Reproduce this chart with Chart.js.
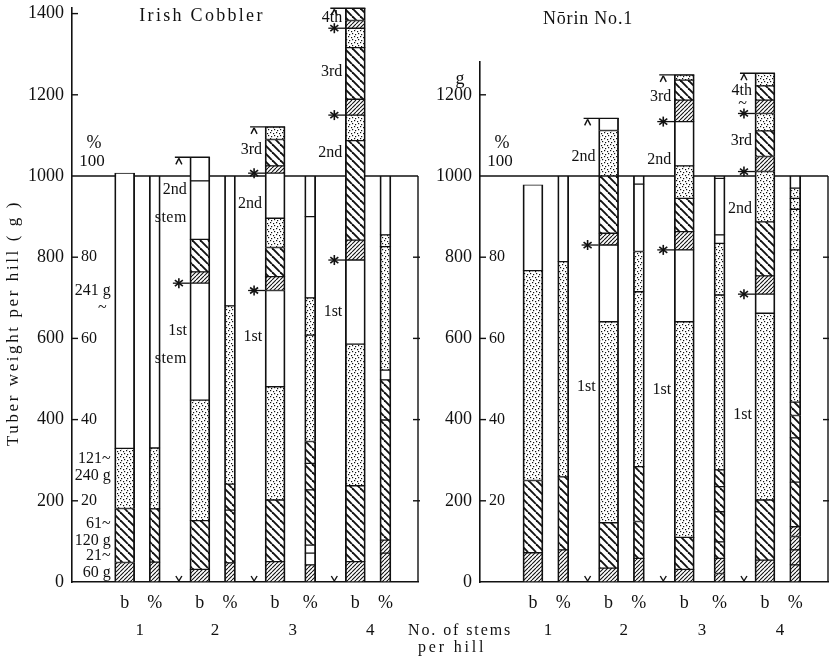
<!DOCTYPE html>
<html>
<head>
<meta charset="utf-8">
<script src="https://cdn.jsdelivr.net/npm/chart.js@4.4.1/dist/chart.umd.min.js"></script>
<style>
  html, body { margin: 0; padding: 0; background: #fff; }
  #wrap { position: relative; width: 829px; height: 662px; overflow: hidden; }
  canvas { position: absolute; top: 0; }
  #cobblerChart { left: 0; }
  #norinChart { left: 400px; }
</style>
</head>
<body>
<div id="wrap">
  <canvas id="cobblerChart" width="420" height="662"></canvas>
  <canvas id="norinChart" width="429" height="662"></canvas>
</div>
<script>
// ---- data -------------------------------------------------------------
// b bars: grams per segment, bottom to top, one inner list per stem
const cobblerB1 = [[48, 133, 148, 678]];
const cobblerB2 = [[31, 120, 297, 288], [28, 80, 144, 58]];
const cobblerB3 = [[50, 152, 279, 237], [34, 72, 72, 111], [18, 65, 31]];
const cobblerB4 = [[50, 187, 349, 207], [49, 245, 63], [39, 127, 48], [19, 30]];
// fill of each segment: D 21~60 g, H 61~120 g, S 121~240 g, W 241 g~
const cobblerB1Fill = ['DHSW'];
const cobblerB2Fill = ['DHSW', 'DHWW'];
const cobblerB3Fill = ['DHSW', 'DHSW', 'DHS'];
const cobblerB4Fill = ['DHSW', 'DHS', 'DHS', 'DH'];
// % bars: share of the hill yield, bottom to top
const cobblerP1 = [4.9, 13.1, 15.0, 67.0];
const cobblerP2 = [4.7, 13.0, 6.4, 43.9, 32.0];
const cobblerP3 = [4.2, 2.9, 2.0, 13.6, 6.5, 5.4, 26.2, 9.2, 20.0, 10.0];
const cobblerP4 = [7.1, 3.2, 29.6, 9.9, 2.4, 30.4, 2.9, 14.5];
const cobblerPFill = ['DHSW', 'DHHSW', 'DWWHHHSSWW', 'DDHHWSSW'];

const norinB1 = [[72, 178, 517, 211]];
const norinB2 = [[34, 112, 495, 189], [29, 141, 112, 30]];
const norinB3 = [[31, 79, 531, 177], [45, 82, 80, 109], [53, 49, 13]];
const norinB4 = [[54, 148, 460, 47], [45, 133, 124], [37, 63, 43], [33, 35, 31]];
const norinB1Fill = ['DHSW'];
const norinB2Fill = ['DHSW', 'DHSW'];
const norinB3Fill = ['DHSW', 'DHSW', 'DHS'];
const norinB4Fill = ['DHSW', 'DHS', 'DHS', 'DHS'];
const norinP1 = [7.9, 18.0, 53.0, 21.1];
const norinP2 = [5.8, 9.1, 13.5, 43.1, 9.9, 16.6, 2.0];
const norinP3 = [2.1, 3.7, 4.1, 7.4, 6.2, 4.1, 43.1, 12.7, 2.1, 13.9, 0.6];
const norinP4 = [4.2, 3.7, 3.3, 2.4, 11.0, 10.9, 5.5, 3.3, 37.5, 10.0, 2.7, 2.5, 3.0];
const norinPFill = ['DHSW', 'DHHSSWW', 'DDHHHHSSWWW', 'DDDDHHHHSSSSW'];

const cobblerGramTicks = [0, 200, 400, 600, 800, 1000, 1200, 1400];
const norinGramTicks = [0, 200, 400, 600, 800, 1000, 1200];
const stemCounts = ['1', '2', '3', '4'];
const pctTicks = [20, 40, 60, 80];
const sizeClasses = [['21~', '60 g'], ['61~', '120 g'], ['121~', '240 g'], ['241 g', '~']];
const cobblerStemNames = [[], ['1st|stem', '2nd|stem'], ['1st', '2nd', '3rd'], ['1st', '2nd', '3rd', '4th']];
const norinStemNames = [[], ['1st', '2nd'], ['1st', '2nd', '3rd'], ['1st', '2nd', '3rd', '4th|~']];

// ---- layout -----------------------------------------------------------
const INK = '#111';
const FONT = "'Liberation Serif', 'DejaVu Serif', serif";
const PX_PER_G = 0.406;
const BASE_Y = 582;
const SLOT_COUNT = 69;
const B_SLOTS = [10, 25, 40, 56];
const P_SLOTS = [16, 31, 47, 62];
const B_WIDTH = 20;
const P_WIDTH = 11;
const classLabelAt = [44, 123, 284, 697];   // grams, beside the 1-stem bar
const cobblerNameAt = [0.84, 0.74, 0.5, 0.5];  // where stem names sit in their span
const norinNameAt = [0.58, 0.7, 0.53, 0.56];

function tile(size, paint) {
  const c = document.createElement('canvas');
  c.width = c.height = size;
  const g = c.getContext('2d');
  g.fillStyle = '#fff';
  g.fillRect(0, 0, size, size);
  g.fillStyle = g.strokeStyle = INK;
  paint(g, size);
  return g.createPattern(c, 'repeat');
}

const FILLS = {
  D: tile(4, (g, s) => {
    g.lineWidth = 1.1;
    for (const o of [-s, 0, s]) { g.beginPath(); g.moveTo(o, s); g.lineTo(o + s, 0); g.stroke(); }
  }),
  H: tile(8, (g, s) => {
    g.lineWidth = 1.9;
    for (const o of [-s, 0, s]) { g.beginPath(); g.moveTo(o, 0); g.lineTo(o + s, s); g.stroke(); }
  }),
  S: tile(6, (g) => {
    [[0, 0], [3, 1], [1, 4], [4, 3]].forEach(([px, py]) => g.fillRect(px, py, 1.2, 1.2));
  }),
  W: '#fff',
};

function stackSets(segLists, fillLists, slots, extra) {
  const depth = Math.max(...segLists.map((s) => s.length));
  return Array.from({ length: depth }, (_, k) => {
    const data = Array(SLOT_COUNT).fill(null);
    const colors = Array(SLOT_COUNT).fill('#fff');
    segLists.forEach((segs, j) => {
      if (k < segs.length) {
        data[slots[j]] = segs[k];
        colors[slots[j]] = FILLS[fillLists[j][k]];
      }
    });
    return {
      data,
      backgroundColor: colors,
      borderColor: INK,
      borderWidth: { left: 1.8, right: 1.8, top: 1, bottom: 1 },
      borderSkipped: false,
      skipNull: true,
      ...extra,
    };
  });
}

// ---- drawing helpers ----------------------------------------------------
function seg(ctx, x1, y1, x2, y2) {
  ctx.beginPath(); ctx.moveTo(x1, y1); ctx.lineTo(x2, y2); ctx.stroke();
}

function text(ctx, str, x, y, size, align = 'center', spacing = 0) {
  ctx.font = `${size}px ${FONT}`;
  ctx.textAlign = align;
  ctx.textBaseline = 'middle';
  ctx.letterSpacing = `${spacing}px`;
  ctx.fillText(str, x, y);
  ctx.letterSpacing = '0px';
}

function star(ctx, x, y) {
  ctx.lineWidth = 1.6;
  seg(ctx, x, y - 5, x, y + 5);
  seg(ctx, x - 4, y - 3, x + 4, y + 3);
  seg(ctx, x - 4, y + 3, x + 4, y - 3);
}

function panelMarks(p) {
  return {
    id: 'panelMarks',
    beforeDatasetsDraw(chart) {
      const { ctx, chartArea: a, scales: { y } } = chart;
      ctx.save();
      ctx.strokeStyle = INK;
      ctx.lineWidth = 1.5;
      seg(ctx, a.left, y.getPixelForValue(1000), a.right, y.getPixelForValue(1000));
      ctx.restore();
    },
    afterDraw(chart) {
      const { ctx, chartArea: a, scales: { x, y } } = chart;
      ctx.save();
      ctx.strokeStyle = ctx.fillStyle = INK;
      ctx.lineWidth = 1.4;

      // inward ticks and the inner % scale
      p.gramTicks.forEach((v) => {
        if (v !== 0 && v !== 1000) seg(ctx, a.left, y.getPixelForValue(v), a.left + 6, y.getPixelForValue(v));
      });
      pctTicks.forEach((pc) => text(ctx, String(pc), a.left + 9, y.getPixelForValue(pc * 10), 16, 'left'));
      const y100 = y.getPixelForValue(1000);
      text(ctx, '%', a.left + 22, y100 - 33, 18);
      text(ctx, '100', a.left + 20, y100 - 14, 17);

      // right-hand frame of the % scale
      ctx.lineWidth = 1.4;
      seg(ctx, a.right, y.getPixelForValue(0), a.right, y100);
      pctTicks.forEach((pc) => {
        const yy = y.getPixelForValue(pc * 10);
        seg(ctx, a.right - 5, yy, a.right + 2, yy);
      });

      // stem ranges beside the b bars
      p.bars.forEach((stems, j) => {
        if (stems.length < 2) return;
        const left = x.getPixelForValue(B_SLOTS[j]) - B_WIDTH / 2;
        const mx = left - 11;
        const tops = [];
        stems.reduce((acc, s) => {
          const t = acc + s.reduce((u, w) => u + w, 0);
          tops.push(t);
          return t;
        }, 0);

        ctx.lineWidth = 1.4;
        const y0 = y.getPixelForValue(0);
        seg(ctx, mx - 3, y0 - 6, mx, y0 - 1);
        seg(ctx, mx + 3, y0 - 6, mx, y0 - 1);
        tops.slice(0, -1).forEach((t) => {
          const yy = y.getPixelForValue(t);
          ctx.lineWidth = 1.3;
          seg(ctx, mx - 6, yy, left, yy);
          star(ctx, mx, yy);
        });
        const yt = y.getPixelForValue(tops[tops.length - 1]);
        ctx.lineWidth = 1.4;
        seg(ctx, mx - 4, yt, left + B_WIDTH, yt);
        seg(ctx, mx - 3, yt + 7, mx, yt + 1);
        seg(ctx, mx + 3, yt + 7, mx, yt + 1);

        let lo = 0;
        tops.forEach((t, s) => {
          const lines = p.stemNames[j][s].split('|');
          const yy = y.getPixelForValue(lo + p.nameAt[s] * (t - lo));
          text(ctx, lines[0], left - 3, yy, 16, 'right');
          if (lines[1] === '~') text(ctx, '~', left - 8, yy + 13, 16, 'right');
          else if (lines[1]) text(ctx, lines[1], left - 3, yy + 28, 16, 'right', 0.5);
          lo = t;
        });
      });

      // size-class labels next to the single-stem bar
      if (p.classLabels) {
        const xr = x.getPixelForValue(B_SLOTS[0]) - B_WIDTH / 2 - 4;
        sizeClasses.forEach((lines, k) => {
          const yy = y.getPixelForValue(classLabelAt[k]);
          text(ctx, lines[0], xr, yy - 8, 16, 'right');
          text(ctx, lines[1], lines[1] === '~' ? xr - 4 : xr, yy + 9, 16, 'right');
        });
      }

      // number of stems under each b/% pair
      stemCounts.forEach((n, j) => {
        const xm = (x.getPixelForValue(B_SLOTS[j]) + x.getPixelForValue(P_SLOTS[j])) / 2;
        text(ctx, n, xm, a.bottom + 49, 17);
      });

      text(ctx, p.title, p.titleX, p.titleY, 18, 'center', p.titleSpacing);

      if (p.yTitle) {
        ctx.save();
        ctx.translate(14, 323);
        ctx.rotate(-Math.PI / 2);
        text(ctx, 'Tuber weight per hill ( g )', 0, 0, 17, 'center', 2.6);
        ctx.restore();
      }
      if (p.unitG) {
        text(ctx, 'g', a.left - 20, y.getPixelForValue(1200) - 16, 18);
        text(ctx, 'No. of stems', 8, a.bottom + 49, 16, 'left', 1.9);
        text(ctx, 'per hill', 18, a.bottom + 66, 16, 'left', 2.8);
      }
      ctx.restore();
    },
  };
}

function buildChart(canvasId, p) {
  const labels = Array(SLOT_COUNT).fill('');
  B_SLOTS.forEach((s) => { labels[s] = 'b'; });
  P_SLOTS.forEach((s) => { labels[s] = '%'; });

  const datasets = [
    ...stackSets(p.bars.map((b) => b.flat()), p.barFills.map((f) => f.join('')), B_SLOTS,
      { stack: 'b', yAxisID: 'y', barThickness: B_WIDTH }),
    ...stackSets(p.pcts, p.pctFills, P_SLOTS,
      { stack: 'p', yAxisID: 'yp', barThickness: P_WIDTH }),
  ];

  return new Chart(document.getElementById(canvasId), {
    type: 'bar',
    data: { labels, datasets },
    plugins: [panelMarks(p)],
    options: {
      responsive: false,
      animation: false,
      events: [],
      layout: { padding: { top: BASE_Y - p.yMax * PX_PER_G, right: p.padRight, left: 0, bottom: 0 } },
      plugins: { legend: { display: false }, tooltip: { enabled: false } },
      scales: {
        x: {
          grid: { display: false, drawTicks: false },
          border: { display: true, color: INK, width: 1.6 },
          ticks: { autoSkip: false, maxRotation: 0, padding: 10, color: INK, font: { family: FONT, size: 18 } },
          afterFit: (s) => { s.height = 662 - BASE_Y; s.paddingLeft = 0; s.paddingRight = 0; },
        },
        y: {
          stacked: true,
          min: 0,
          max: p.yMax,
          grid: { display: false, drawTicks: false },
          border: { display: true, color: INK, width: 1.6 },
          ticks: { padding: 8, color: INK, font: { family: FONT, size: 18 }, callback: (v) => String(v) },
          afterBuildTicks: (s) => { s.ticks = p.gramTicks.map((v) => ({ value: v })); },
          afterFit: (s) => { s.width = p.axisWidth; s.paddingTop = 0; s.paddingBottom = 0; },
        },
        yp: { display: false, stacked: true, min: 0, max: p.yMax / 10 },
      },
    },
  });
}

buildChart('cobblerChart', {
  title: 'Irish Cobbler', titleX: 202, titleY: 16, titleSpacing: 2.3,
  yMax: 1415, axisWidth: 72, padRight: 2, gramTicks: cobblerGramTicks,
  bars: [cobblerB1, cobblerB2, cobblerB3, cobblerB4],
  barFills: [cobblerB1Fill, cobblerB2Fill, cobblerB3Fill, cobblerB4Fill],
  pcts: [cobblerP1, cobblerP2, cobblerP3, cobblerP4],
  pctFills: cobblerPFill,
  stemNames: cobblerStemNames, nameAt: cobblerNameAt,
  classLabels: true, yTitle: true,
});

buildChart('norinChart', {
  title: 'Nōrin No.1', titleX: 188, titleY: 19, titleSpacing: 0.8,
  yMax: 1281, axisWidth: 80, padRight: 1, gramTicks: norinGramTicks,
  bars: [norinB1, norinB2, norinB3, norinB4],
  barFills: [norinB1Fill, norinB2Fill, norinB3Fill, norinB4Fill],
  pcts: [norinP1, norinP2, norinP3, norinP4],
  pctFills: norinPFill,
  stemNames: norinStemNames, nameAt: norinNameAt,
  unitG: true,
});
</script>
</body>
</html>
